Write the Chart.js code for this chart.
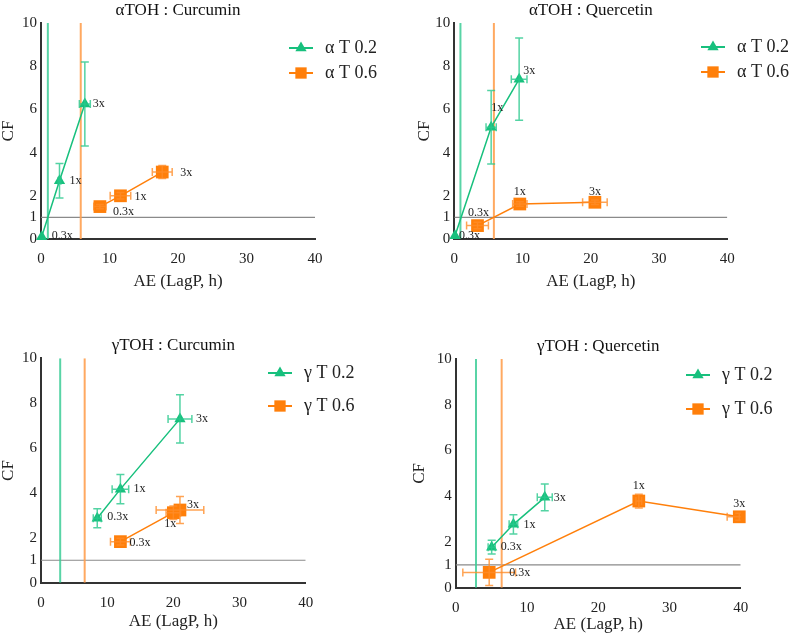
<!DOCTYPE html>
<html>
<head>
<meta charset="utf-8">
<script src="https://cdn.jsdelivr.net/npm/chart.js@4.4.1/dist/chart.umd.min.js"></script>
<style>
  body { margin: 0; background: #fff; }
  #wrap { position: relative; width: 790px; height: 637px; }
  .panel { position: absolute; }
</style>
</head>
<body>
<div id="wrap">
  <div class="panel" style="left:0;top:0"><canvas id="c1" width="395" height="300"></canvas></div>
  <div class="panel" style="left:395px;top:0"><canvas id="c2" width="395" height="300"></canvas></div>
  <div class="panel" style="left:0;top:320px"><canvas id="c3" width="395" height="317"></canvas></div>
  <div class="panel" style="left:395px;top:320px"><canvas id="c4" width="395" height="317"></canvas></div>
</div>
<script>
const doses = ['0.3x', '1x', '3x'];
const xTicks = [0, 10, 20, 30, 40];
const yTicks = [0, 1, 2, 4, 6, 8, 10];

// αTOH : Curcumin
const aCur_T02_ae = [0.1, 2.7, 6.4];
const aCur_T02_aeErr = [0, 0.2, 0.8];
const aCur_T02_cf = [0.1, 2.7, 6.25];
const aCur_T02_cfErr = [0, 0.8, 1.95];
const aCur_T06_ae = [8.6, 11.6, 17.7];
const aCur_T06_aeErr = [0.9, 1.5, 1.45];
const aCur_T06_cf = [1.5, 2.0, 3.1];
const aCur_T06_cfErr = [0.1, 0.15, 0.3];
const aCur_cutoff = [1.0, 5.8];

// αTOH : Quercetin
const aQue_T02_ae = [0.1, 5.4, 9.5];
const aQue_T02_aeErr = [0, 0.75, 1.15];
const aQue_T02_cf = [0.15, 5.17, 7.4];
const aQue_T02_cfErr = [0, 1.7, 1.9];
const aQue_T06_ae = [3.4, 9.6, 20.6];
const aQue_T06_aeErr = [1.6, 1.05, 1.8];
const aQue_T06_cf = [0.62, 1.62, 1.7];
const aQue_T06_cfErr = [0.15, 0.1, 0.1];
const aQue_cutoff = [0.9, 5.8];

// γTOH : Curcumin
const gCur_T02_ae = [8.5, 12.0, 21.0];
const gCur_T02_aeErr = [0.6, 1.25, 1.8];
const gCur_T02_cf = [2.87, 4.17, 7.3];
const gCur_T02_cfErr = [0.42, 0.65, 1.08];
const gCur_T06_ae = [12.0, 20.0, 21.0];
const gCur_T06_aeErr = [1.5, 1.1, 3.6];
const gCur_T06_cf = [1.83, 3.12, 3.24];
const gCur_T06_cfErr = [0.15, 0.3, 0.6];
const gCur_cutoff = [2.9, 6.6];

// γTOH : Quercetin
const gQue_T02_ae = [5.05, 8.1, 12.5];
const gQue_T02_aeErr = [0.5, 0.6, 1.05];
const gQue_T02_cf = [1.77, 2.77, 3.95];
const gQue_T02_cfErr = [0.3, 0.42, 0.58];
const gQue_T06_ae = [4.7, 25.7, 39.8];
const gQue_T06_aeErr = [3.7, 0.4, 1.7];
const gQue_T06_cf = [0.67, 3.79, 3.1];
const gQue_T06_cfErr = [0.57, 0.3, 0.15];
const gQue_cutoff = [2.85, 6.45];

const SERIF = "'Liberation Serif', 'Times New Roman', serif";
const GREEN = '#17c07d';
const GREEN_LIGHT = 'rgba(40, 200, 140, 0.8)';
const GREEN_CUT = 'rgba(60, 205, 150, 0.85)';
const ORANGE = '#ff7f0a';
const ORANGE_LIGHT = 'rgba(255, 140, 40, 0.8)';
const ORANGE_CUT = 'rgba(255, 160, 80, 0.9)';

function pts(xs, ys) {
    return xs.map((x, i) => ({x: x, y: ys[i]}));
}

// error bars, drawn over the markers like the original
const errorBars = {
    id: 'errorBars',
    afterDatasetsDraw(chart){
        const ctx = chart.ctx;
        const xs = chart.scales.x, ys = chart.scales.y;
        const area = chart.chartArea;
        ctx.save();
        ctx.beginPath();
        ctx.rect(area.left, area.top - 10, area.width, area.height + 10);
        ctx.clip();
        chart.data.datasets.forEach((ds, di) => {
            if (!ds.errX) return;
            ds.data.forEach((p, i) => {
                const px = xs.getPixelForValue(p.x), py = ys.getPixelForValue(p.y);
                ctx.strokeStyle = ds.errColor;
                ctx.lineWidth = 1.5;
                const ex = ds.errX[i], ey = ds.errY[i];
                if (ex > 0) {
                    const x1 = xs.getPixelForValue(p.x - ex), x2 = xs.getPixelForValue(p.x + ex);
                    ctx.beginPath();
                    ctx.moveTo(x1, py); ctx.lineTo(x2, py);
                    ctx.moveTo(x1, py - 4); ctx.lineTo(x1, py + 4);
                    ctx.moveTo(x2, py - 4); ctx.lineTo(x2, py + 4);
                    ctx.stroke();
                }
                if (ey > 0) {
                    const y1 = ys.getPixelForValue(p.y - ey), y2 = ys.getPixelForValue(p.y + ey);
                    ctx.beginPath();
                    ctx.moveTo(px, y1); ctx.lineTo(px, y2);
                    ctx.moveTo(px - 4, y1); ctx.lineTo(px + 4, y1);
                    ctx.moveTo(px - 4, y2); ctx.lineTo(px + 4, y2);
                    ctx.stroke();
                }
            });
        });
        ctx.restore();
    }
};

const doseLabels = {
    id: 'doseLabels',
    afterDraw(chart){
        const ctx = chart.ctx;
        ctx.save();
        ctx.font = '12px ' + SERIF;
        ctx.fillStyle = '#222';
        ctx.textBaseline = 'middle';
        chart.data.datasets.forEach((ds, di) => {
            if (!ds.labelPos) return;
            const meta = chart.getDatasetMeta(di);
            meta.data.forEach((el, i) => {
                const lp = ds.labelPos[i];
                ctx.textAlign = lp[2] || 'left';
                ctx.fillText(doses[i], el.x + lp[0], el.y + lp[1]);
            });
        });
        ctx.restore();
    }
};

function marker(ctx, style, x, y, r){
    ctx.beginPath();
    if (style === 'triangle') {
        ctx.moveTo(x, y - r);
        ctx.lineTo(x + r * 0.866, y + r * 0.5);
        ctx.lineTo(x - r * 0.866, y + r * 0.5);
    } else {
        const s = r * 0.707;
        ctx.rect(x - s, y - s, 2 * s, 2 * s);
    }
    ctx.closePath();
    ctx.fill();
}

const sideLegend = {
    id: 'sideLegend',
    afterDraw(chart, args, opts){
        const ctx = chart.ctx;
        ctx.save();
        opts.items.forEach((it, i) => {
            const y = opts.ys[i];
            ctx.strokeStyle = it.color;
            ctx.lineWidth = 2;
            ctx.beginPath();
            ctx.moveTo(opts.x, y);
            ctx.lineTo(opts.x + 24, y);
            ctx.stroke();
            ctx.fillStyle = it.color;
            marker(ctx, it.style, opts.x + 12, y, it.style === 'triangle' ? 6.5 : 8);
            ctx.fillStyle = '#222';
            ctx.font = '18px ' + SERIF;
            ctx.textAlign = 'left';
            ctx.textBaseline = 'middle';
            ctx.fillText(it.text, opts.x + 36, y);
        });
        ctx.restore();
    }
};

function buildPanel(canvasId, p){
    const datasets = [
        {
            data: pts(p.green.ae, p.green.cf), errX: p.green.aeErr, errY: p.green.cfErr,
            errColor: GREEN_LIGHT, labelPos: p.green.labelPos,
            showLine: true, borderColor: GREEN, backgroundColor: GREEN, borderWidth: 1.5,
            pointStyle: 'triangle', pointRadius: 6.5, pointBorderWidth: 0, clip: false, order: 1
        },
        {
            data: pts(p.orange.ae, p.orange.cf), errX: p.orange.aeErr, errY: p.orange.cfErr,
            errColor: ORANGE_LIGHT, labelPos: p.orange.labelPos,
            showLine: true, borderColor: ORANGE, backgroundColor: ORANGE, borderWidth: 1.5,
            pointStyle: 'rect', pointRadius: 9, pointBorderWidth: 0, clip: false, order: 2
        },
        {
            data: [{x: p.cutoff[0], y: 0}, {x: p.cutoff[0], y: 10}],
            showLine: true, borderColor: GREEN_CUT, borderWidth: 2, pointRadius: 0, order: 5
        },
        {
            data: [{x: p.cutoff[1], y: 0}, {x: p.cutoff[1], y: 10}],
            showLine: true, borderColor: ORANGE_CUT, borderWidth: 2, pointRadius: 0, order: 5
        },
        {
            data: [{x: 0, y: 1}, {x: 40, y: 1}],
            showLine: true, borderColor: '#8a8a8a', borderWidth: 1.2, pointRadius: 0, order: 6
        }
    ];
    const L = p.layout;
    const tickFont = {family: SERIF, size: 15};
    return new Chart(document.getElementById(canvasId), {
        type: 'scatter',
        data: {datasets: datasets},
        options: {
            responsive: false,
            animation: false,
            events: [],
            layout: {padding: {left: L.padLeft, top: L.padTop, right: L.padRight, bottom: 0}},
            plugins: {
                legend: {display: false},
                tooltip: {enabled: false},
                title: {
                    display: true, text: p.title, fullSize: false, color: '#111',
                    font: {family: SERIF, size: 17, weight: 'normal', lineHeight: 1.2},
                    padding: {top: 0, bottom: L.titleGap}
                },
                sideLegend: {x: p.legendX, ys: p.legendY, items: [
                    {text: p.names[0], color: GREEN, style: 'triangle'},
                    {text: p.names[1], color: ORANGE, style: 'rect'}
                ]}
            },
            scales: {
                x: {
                    type: 'linear', min: 0, max: 40,
                    afterBuildTicks: s => { s.ticks = xTicks.map(v => ({value: v})); },
                    afterFit: s => { s.height = L.xHeight; },
                    grid: {display: false, drawTicks: false},
                    border: {color: '#333', width: 2},
                    ticks: {padding: 11, color: '#222', font: tickFont},
                    title: {display: true, text: 'AE (LagP, h)', color: '#222',
                        font: {family: SERIF, size: 17, lineHeight: 1.2},
                        padding: {top: 0, bottom: L.xTitlePad}}
                },
                y: {
                    type: 'linear', min: 0, max: 10,
                    afterBuildTicks: s => { s.ticks = yTicks.map(v => ({value: v})); },
                    afterFit: s => { s.width = L.yWidth; },
                    grid: {display: false, drawTicks: false},
                    border: {color: '#333', width: 2},
                    ticks: {padding: 4, color: '#222', font: tickFont},
                    title: {display: true, text: 'CF', color: '#222',
                        font: {family: SERIF, size: 17, lineHeight: 1},
                        padding: {top: 0, bottom: 0}}
                }
            }
        },
        plugins: [errorBars, doseLabels, sideLegend]
    });
}

buildPanel('c1', {
    title: 'αTOH : Curcumin', names: ['α T 0.2', 'α T 0.6'],
    green: {ae: aCur_T02_ae, aeErr: aCur_T02_aeErr, cf: aCur_T02_cf, cfErr: aCur_T02_cfErr,
        labelPos: [[10, -1], [10, 0], [8, 0]]},
    orange: {ae: aCur_T06_ae, aeErr: aCur_T06_aeErr, cf: aCur_T06_cf, cfErr: aCur_T06_cfErr,
        labelPos: [[13, 5], [14, 1], [18, 1]]},
    cutoff: aCur_cutoff,
    legendX: 289, legendY: [48, 73],
    layout: {padLeft: 0, padTop: 0, padRight: 80, yWidth: 41, xHeight: 61, xTitlePad: 8, titleGap: 2.6}
});

buildPanel('c2', {
    title: 'αTOH : Quercetin', names: ['α T 0.2', 'α T 0.6'],
    green: {ae: aQue_T02_ae, aeErr: aQue_T02_aeErr, cf: aQue_T02_cf, cfErr: aQue_T02_cfErr,
        labelPos: [[4, 0], [0, -19], [4, -8]]},
    orange: {ae: aQue_T06_ae, aeErr: aQue_T06_aeErr, cf: aQue_T06_cf, cfErr: aQue_T06_cfErr,
        labelPos: [[1, -13, 'center'], [0, -12, 'center'], [0, -10, 'center']]},
    cutoff: aQue_cutoff,
    legendX: 306, legendY: [47, 72],
    layout: {padLeft: 21, padTop: 0, padRight: 62.7, yWidth: 38.3, xHeight: 61, xTitlePad: 8, titleGap: 2.6}
});

buildPanel('c3', {
    title: 'γTOH : Curcumin', names: ['γ T 0.2', 'γ T 0.6'],
    green: {ae: gCur_T02_ae, aeErr: gCur_T02_aeErr, cf: gCur_T02_cf, cfErr: gCur_T02_cfErr,
        labelPos: [[10, -1], [13, 0], [16, 0]]},
    orange: {ae: gCur_T06_ae, aeErr: gCur_T06_aeErr, cf: gCur_T06_cf, cfErr: gCur_T06_cfErr,
        labelPos: [[9, 1], [-3, 11, 'center'], [7, -5]]},
    cutoff: gCur_cutoff,
    legendX: 268, legendY: [53, 86],
    layout: {padLeft: 0.5, padTop: 15, padRight: 89.3, yWidth: 40.5, xHeight: 54.3, xTitlePad: 5, titleGap: 2.9}
});

buildPanel('c4', {
    title: 'γTOH : Quercetin', names: ['γ T 0.2', 'γ T 0.6'],
    green: {ae: gQue_T02_ae, aeErr: gQue_T02_aeErr, cf: gQue_T02_cf, cfErr: gQue_T02_cfErr,
        labelPos: [[9, 0], [10, 0], [9, 0]]},
    orange: {ae: gQue_T06_ae, aeErr: gQue_T06_aeErr, cf: gQue_T06_cf, cfErr: gQue_T06_cfErr,
        labelPos: [[20, 0], [0, -15, 'center'], [0, -13, 'center']]},
    cutoff: gQue_cutoff,
    legendX: 291, legendY: [55, 89],
    layout: {padLeft: 16.5, padTop: 16, padRight: 49.3, yWidth: 44.2, xHeight: 49.3, xTitlePad: 2.5, titleGap: 2.6}
});
</script>
</body>
</html>
